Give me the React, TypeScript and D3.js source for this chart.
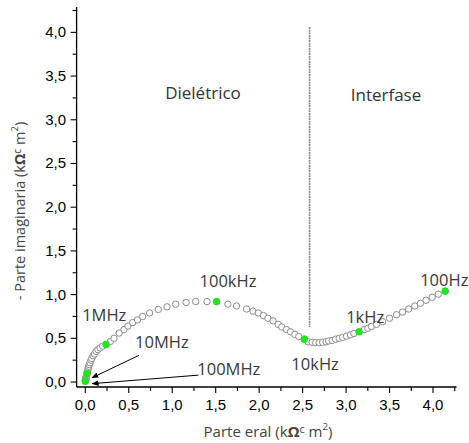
import React from "react";
import * as d3 from "d3";

// Nyquist diagram: real part vs. negative imaginary part (kΩ·m²)
const reValues: number[] = [
  0.0, 0.002, 0.003, 0.004, 0.005, 0.006, 0.007, 0.008, 0.009, 0.01, 0.012, 0.013, 0.015, 0.017, 0.019,
  0.02, 0.025, 0.03, 0.035, 0.04, 0.045, 0.055, 0.065, 0.075, 0.09, 0.105, 0.125, 0.145, 0.17, 0.2,
  0.24, 0.29, 0.33, 0.39, 0.445, 0.49, 0.545, 0.6, 0.66, 0.74, 0.84, 0.94, 1.04, 1.16, 1.27, 1.4,
  1.51, 1.64, 1.74, 1.855, 1.93, 1.99, 2.05, 2.1, 2.16, 2.22, 2.26, 2.315, 2.36, 2.41, 2.456,
  2.52, 2.565, 2.61, 2.65, 2.69, 2.73, 2.77, 2.8, 2.84, 2.88, 2.92, 2.96, 3.005, 3.05, 3.09,
  3.15, 3.21, 3.25, 3.29, 3.35, 3.42, 3.5, 3.58, 3.65, 3.72, 3.79, 3.855, 3.92, 3.99, 4.06, 4.14,
];
const imValues: number[] = [
  0.01, 0.015, 0.02, 0.025, 0.03, 0.035, 0.04, 0.045, 0.05, 0.055, 0.06, 0.07, 0.075, 0.085, 0.09,
  0.1, 0.12, 0.14, 0.16, 0.18, 0.2, 0.22, 0.25, 0.27, 0.3, 0.32, 0.35, 0.37, 0.39, 0.41,
  0.43, 0.465, 0.5, 0.56, 0.6, 0.64, 0.68, 0.71, 0.75, 0.79, 0.83, 0.86, 0.89, 0.91, 0.92, 0.92,
  0.92, 0.89, 0.87, 0.835, 0.81, 0.79, 0.76, 0.73, 0.7, 0.66, 0.63, 0.6, 0.575, 0.545, 0.52,
  0.49, 0.46, 0.455, 0.45, 0.45, 0.455, 0.46, 0.47, 0.475, 0.49, 0.5, 0.51, 0.525, 0.54, 0.555,
  0.575, 0.6, 0.615, 0.635, 0.66, 0.69, 0.73, 0.77, 0.8, 0.835, 0.87, 0.9, 0.935, 0.97, 1.005, 1.04,
];

// Highlighted frequencies
const freqLabels: string[] = ["100MHz", "10MHz", "1MHz", "100kHz", "10kHz", "1kHz", "100Hz"];
const freqRe: number[] = [0.0, 0.02, 0.24, 1.51, 2.52, 3.15, 4.14];
const freqIm: number[] = [0.01, 0.1, 0.43, 0.92, 0.49, 0.575, 1.04];

const xTicks: number[] = [0, 0.5, 1, 1.5, 2, 2.5, 3, 3.5, 4];
const yTicks: number[] = [0, 0.5, 1, 1.5, 2, 2.5, 3, 3.5, 4];

// Boundary between the two regions
const boundaryRe = 2.58;
const boundaryImRange: [number, number] = [0.63, 4.06];

// Label placement (pixel offsets from each highlighted marker)
const labelOffsets: [number, number][] = [
  [112, -6], [48, -25], [-24, -23], [-17, -15], [-13, 31], [-13, -9], [-25, -5],
];
// Arrows: [tail dx, tail dy, head dx, head dy] relative to marker, or null
const arrowOffsets: ([number, number, number, number] | null)[] = [
  [113, -6, 7, 2.5], [52, -18, 5, 4.5], null, null, null, null, null,
];

const W = 469;
const H = 443;
const fmt = (v: number) => d3.format(".1f")(v).replace(".", ",");

export default function App() {
  const x = d3.scaleLinear().domain([-0.1, 4.27]).range([76.6, 456.5]);
  const y = d3.scaleLinear().domain([-0.057, 4.29]).range([387, 7]);
  const [x0, x1] = x.range();
  const [yb, yt] = y.range();

  const xMinor = d3.range(0, 4.26, 0.25);
  const yMinor = d3.range(0, 4.26, 0.25);

  const titleFont = "'Open Sans', 'DejaVu Sans', sans-serif";
  const tickFont = "'Liberation Sans', Arial, sans-serif";

  const unit = (
    <>
      (k<tspan fontWeight="bold">Ω</tspan>
      <tspan fontSize="0.72em" dy={-4}>c</tspan>
      <tspan dy={4}> m</tspan>
      <tspan fontSize="0.65em" dy={-7}>2</tspan>
      <tspan dy={7}>)</tspan>
    </>
  );

  return (
    <svg width={W} height={H} style={{ position: "absolute", left: 0, top: 0, background: "#fff" }}>
      <defs>
        <marker id="ah" viewBox="0 0 10 10" refX="9" refY="5" markerWidth="7" markerHeight="7" orient="auto">
          <path d="M0,1 L10,5 L0,9 z" fill="#000" />
        </marker>
      </defs>

      {/* boundary line */}
      <line
        x1={x(boundaryRe)} x2={x(boundaryRe)}
        y1={y(boundaryImRange[1])} y2={y(boundaryImRange[0])}
        stroke="#8a8a8a" strokeWidth={1.6} strokeDasharray="2,0.6"
      />

      {/* region labels */}
      <text x={203} y={99} textAnchor="middle" fontFamily={titleFont} fontSize={17} fill="#333">Dielétrico</text>
      <text x={386} y={101} textAnchor="middle" fontFamily={titleFont} fontSize={17} fill="#333">Interfase</text>

      {/* axes */}
      <line x1={x0} x2={x1} y1={yb} y2={yb} stroke="#000" strokeWidth={1.3} />
      <line x1={x0} x2={x0} y1={yb} y2={yt} stroke="#000" strokeWidth={1.3} />
      {xMinor.map((v) => (
        <line key={"xm" + v} x1={x(v)} x2={x(v)} y1={yb} y2={yb + (v % 0.5 === 0 ? 6 : 4)} stroke="#000" strokeWidth={1.1} />
      ))}
      {yMinor.map((v) => (
        <line key={"ym" + v} x1={x0} x2={x0 - (v % 0.5 === 0 ? 6 : 4)} y1={y(v)} y2={y(v)} stroke="#000" strokeWidth={1.1} />
      ))}
      {xTicks.map((v) => (
        <text key={"xt" + v} x={x(v)} y={410} textAnchor="middle" fontFamily={tickFont} fontSize={15} fill="#000">{fmt(v)}</text>
      ))}
      {yTicks.map((v) => (
        <text key={"yt" + v} x={66} y={y(v) + 5} textAnchor="end" fontFamily={tickFont} fontSize={15} fill="#000">{fmt(v)}</text>
      ))}

      {/* axis titles */}
      <text x={268} y={437} textAnchor="middle" fontFamily={titleFont} fontSize={15} fill="#444">
        Parte eral {unit}
      </text>
      <text transform="translate(25,211) rotate(-90)" textAnchor="middle" fontFamily={titleFont} fontSize={14.5} fill="#444">
        - Parte imaginaria {unit}
      </text>

      {/* data */}
      {reValues.map((r, i) => (
        <circle key={"p" + i} cx={x(r)} cy={y(imValues[i])} r={3.2} fill="#fff" stroke="#8c8c8c" strokeWidth={1} />
      ))}
      {freqRe.map((r, i) => (
        <circle key={"g" + i} cx={x(r)} cy={y(freqIm[i])} r={3.6} fill="#1ee61e" />
      ))}

      {/* frequency labels and arrows */}
      {freqLabels.map((lab, i) => {
        const px = x(freqRe[i]);
        const py = y(freqIm[i]);
        const a = arrowOffsets[i];
        return (
          <g key={"l" + i}>
            {a && (
              <line x1={px + a[0]} y1={py + a[1]} x2={px + a[2]} y2={py + a[3]} stroke="#000" strokeWidth={1} markerEnd="url(#ah)" />
            )}
            <text x={px + labelOffsets[i][0]} y={py + labelOffsets[i][1]} fontFamily={titleFont} fontSize={16.5} fill="#3a3a3a">{lab}</text>
          </g>
        );
      })}
    </svg>
  );
}
